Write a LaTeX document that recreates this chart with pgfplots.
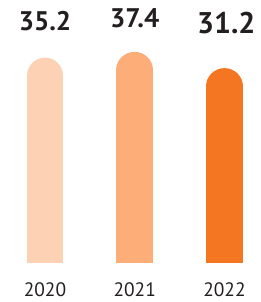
\documentclass[border=0pt]{standalone}
\usepackage{pgfplots}
\pgfplotsset{compat=1.18}
\usepackage{fontspec}
\setmainfont{PT Sans}
\definecolor{txt}{HTML}{231F20}
\definecolor{cA}{HTML}{FDD2B4}
\definecolor{cB}{HTML}{FDAE78}
\definecolor{cC}{HTML}{F47522}
\begin{document}
\begin{tikzpicture}
\path[use as bounding box] (0,0) rectangle (261bp,302bp);
\begin{axis}[
  at={(0,39bp)}, anchor=south west,
  scale only axis, width=261bp, height=263bp,
  xmin=-0.501, xmax=2.407,
  ymin=-36.22, ymax=64.16,
  axis line style={draw=none},
  tick style={draw=none},
  ytick=\empty,
  xtick={0,1,2},
  xticklabels={2020,2021,2022},
  xticklabel style={anchor=base, yshift=-34bp, inner sep=0pt, text=txt, font=\fontsize{19.5}{20}\selectfont},
  clip=true,
  clip mode=individual,
]
\addplot[cA, line width=36.5bp, line cap=round] coordinates {(0,-60) (0,35.2)};
\addplot[cB, line width=36.5bp, line cap=round] coordinates {(1,-60) (1,37.4)};
\addplot[cC, line width=36.5bp, line cap=round] coordinates {(2,-60) (2,31.2)};
\addplot[draw=none, mark=none, nodes near coords, point meta=explicit symbolic,
  every node near coord/.style={anchor=base, inner sep=0pt, text=txt, font=\fontsize{27}{28}\selectfont\bfseries}]
  table[meta=lab] {
  x y lab
  0 52.5 35.2
  1 53.6 37.4
};
\addplot[draw=none, mark=none, nodes near coords, point meta=explicit symbolic,
  every node near coord/.style={anchor=base, inner sep=0pt, text=txt, font=\fontsize{30}{30}\selectfont\bfseries}]
  table[meta=lab] {
  x y lab
  2.02 51.4 31.2
};
\end{axis}
\end{tikzpicture}
\end{document}
